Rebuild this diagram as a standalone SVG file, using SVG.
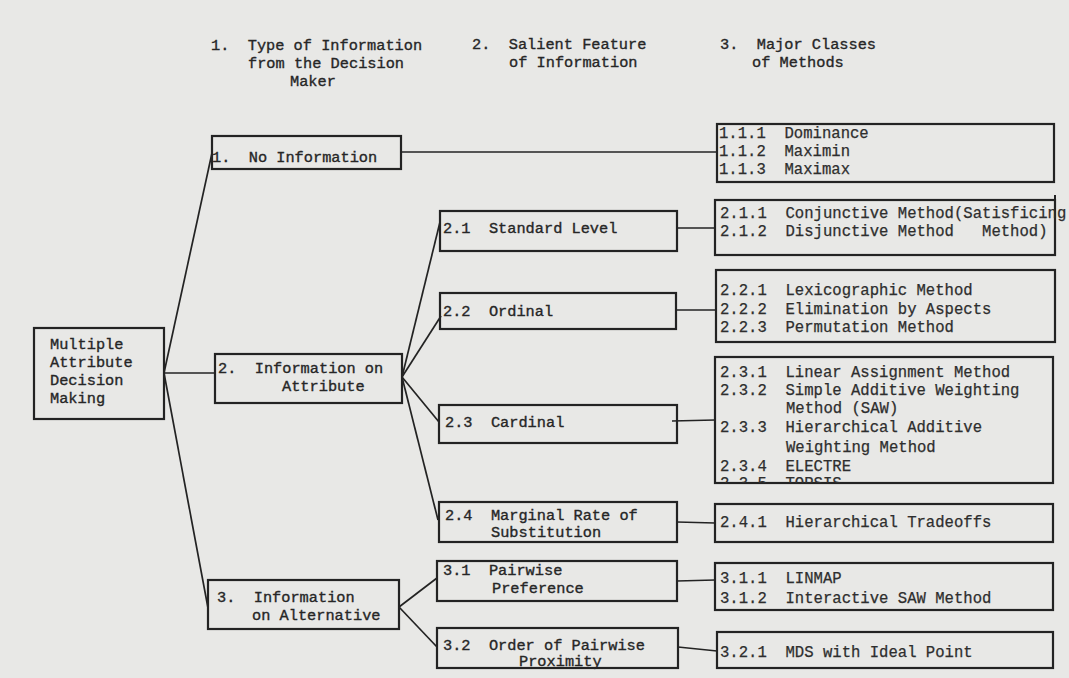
<svg xmlns="http://www.w3.org/2000/svg" width="1069" height="678" viewBox="0 0 1069 678">
<style>
.bg{fill:#e8e8e6}
.box{fill:none;stroke:#232323;stroke-width:2.2}
.con line{stroke:#232323;stroke-width:1.7}
text{font-family:"Liberation Mono","Courier New",monospace;fill:#262626;stroke:#262626;stroke-width:0.35;white-space:pre}
.l{font-size:15.3px}
.r{font-size:15.6px;fill:#2e2e2e;stroke:#2e2e2e;stroke-width:0.25}
.h{font-size:15.3px}
</style>
<defs>
<clipPath id="clip23"><rect x="715" y="357" width="338" height="126"/></clipPath>
</defs>
<rect class="bg" x="0" y="0" width="1069" height="678"/>

<g id="headers">
<text class="h" x="211" y="50">1.  Type of Information</text>
<text class="h" x="248" y="68">from the Decision</text>
<text class="h" x="290" y="86">Maker</text>
<text class="h" x="472" y="49">2.  Salient Feature</text>
<text class="h" x="509" y="67">of Information</text>
<text class="h" x="720" y="49">3.  Major Classes</text>
<text class="h" x="752" y="67">of Methods</text>
</g>

<g id="connectors" class="con">
<line x1="164" y1="373" x2="212" y2="153"/>
<line x1="164" y1="373" x2="215" y2="373"/>
<line x1="164" y1="373" x2="208" y2="608"/>
<line x1="401" y1="152" x2="717" y2="152"/>
<line x1="402" y1="377" x2="440" y2="222"/>
<line x1="402" y1="377" x2="441" y2="316"/>
<line x1="402" y1="377" x2="439" y2="422"/>
<line x1="402" y1="377" x2="438" y2="520"/>
<line x1="399" y1="607" x2="437" y2="578"/>
<line x1="399" y1="607" x2="437" y2="647"/>
<line x1="677" y1="228" x2="715" y2="228"/>
<line x1="676" y1="310" x2="716" y2="310"/>
<line x1="672" y1="421" x2="715" y2="420"/>
<line x1="677" y1="522" x2="715" y2="523"/>
<line x1="677" y1="581" x2="715" y2="580"/>
<line x1="678" y1="647" x2="717" y2="651"/>
</g>

<g id="root">
<rect class="box" x="34" y="328" width="130" height="91"/>
<text class="l" x="50" y="349">Multiple</text>
<text class="l" x="50" y="367">Attribute</text>
<text class="l" x="50" y="385">Decision</text>
<text class="l" x="50" y="403">Making</text>
</g>

<g id="n1">
<rect class="box" x="212" y="136" width="189" height="33"/>
<text class="l" x="212" y="162">1.  No Information</text>
</g>
<g id="n2">
<rect class="box" x="215" y="354" width="187" height="49"/>
<text class="l" x="218" y="373">2.  Information on</text>
<text class="l" x="282" y="391">Attribute</text>
</g>
<g id="n3">
<rect class="box" x="208" y="580" width="191" height="49"/>
<text class="l" x="217" y="602">3.  Information</text>
<text class="l" x="252" y="620">on Alternative</text>
</g>

<g id="n21">
<rect class="box" x="440" y="211" width="237" height="40"/>
<text class="l" x="443" y="233">2.1  Standard Level</text>
</g>
<g id="n22">
<rect class="box" x="440" y="293" width="236" height="36"/>
<text class="l" x="443" y="316">2.2  Ordinal</text>
</g>
<g id="n23">
<rect class="box" x="439" y="405" width="238" height="38"/>
<text class="l" x="445" y="427">2.3  Cardinal</text>
</g>
<g id="n24">
<rect class="box" x="439" y="502" width="238" height="40"/>
<text class="l" x="445" y="520">2.4  Marginal Rate of</text>
<text class="l" x="491" y="537">Substitution</text>
</g>
<g id="n31">
<rect class="box" x="437" y="561" width="240" height="40"/>
<text class="l" x="443" y="575">3.1  Pairwise</text>
<text class="l" x="492" y="593">Preference</text>
</g>
<g id="n32">
<rect class="box" x="437" y="628" width="241" height="40"/>
<text class="l" x="443" y="650">3.2  Order of Pairwise</text>
<text class="l" x="519" y="666">Proximity</text>
</g>

<g id="m11">
<rect class="box" x="717" y="124" width="337" height="58"/>
<text class="r" x="719" y="138">1.1.1  Dominance</text>
<text class="r" x="719" y="156">1.1.2  Maximin</text>
<text class="r" x="719" y="174">1.1.3  Maximax</text>
</g>
<g id="m21">
<rect class="box" x="715" y="200" width="340" height="55"/>
<line x1="1055" y1="195" x2="1055" y2="200" stroke="#232323" stroke-width="2"/>
<text class="r" x="720" y="218">2.1.1  Conjunctive Method(Satisficing</text>
<text class="r" x="720" y="236">2.1.2  Disjunctive Method   Method)</text>
</g>
<g id="m22">
<rect class="box" x="716" y="270" width="339" height="72"/>
<text class="r" x="720" y="295">2.2.1  Lexicographic Method</text>
<text class="r" x="720" y="314">2.2.2  Elimination by Aspects</text>
<text class="r" x="720" y="332">2.2.3  Permutation Method</text>
</g>
<g id="m23">
<rect class="box" x="715" y="357" width="338" height="126"/>
<text class="r" x="720" y="377">2.3.1  Linear Assignment Method</text>
<text class="r" x="720" y="395">2.3.2  Simple Additive Weighting</text>
<text class="r" x="786" y="413">Method (SAW)</text>
<text class="r" x="720" y="432">2.3.3  Hierarchical Additive</text>
<text class="r" x="786" y="452">Weighting Method</text>
<text class="r" x="720" y="471">2.3.4  ELECTRE</text>
<text class="r" x="720" y="488" clip-path="url(#clip23)">2.3.5  TOPSIS</text>
</g>
<g id="m24">
<rect class="box" x="715" y="504" width="338" height="38"/>
<text class="r" x="720" y="527">2.4.1  Hierarchical Tradeoffs</text>
</g>
<g id="m31">
<rect class="box" x="715" y="563" width="338" height="47"/>
<text class="r" x="720" y="583">3.1.1  LINMAP</text>
<text class="r" x="720" y="603">3.1.2  Interactive SAW Method</text>
</g>
<g id="m32">
<rect class="box" x="717" y="632" width="336" height="36"/>
<text class="r" x="720" y="657">3.2.1  MDS with Ideal Point</text>
</g>
</svg>
